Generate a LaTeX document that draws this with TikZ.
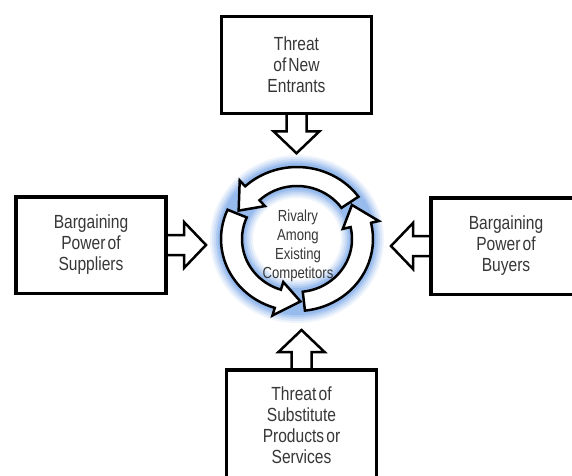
\documentclass[tikz,border=0pt]{standalone}
\usepackage{fontspec}
\setmainfont{Liberation Sans}[FakeStretch=0.82,WordSpace=0.5]
\definecolor{txtgray}{RGB}{55,55,55}
\definecolor{glowblue}{RGB}{95,150,230}
\tikzset{
  forcebox/.style={draw, line width=3.5pt, fill=white, minimum width=150pt,
    minimum height=96.5pt, align=center, text=txtgray,
    font=\fontsize{19}{21}\selectfont},
  hubtext/.style={align=center, text=txtgray, font=\fontsize{16}{19}\selectfont},
  ringline/.style={fill=white, draw=black, line width=2.5pt, line join=miter},
  pics/blockarrow/.style={code={
    \filldraw[fill=white, draw=black, line width=2.5pt, line join=miter]
      (0,10) -- (18,10) -- (18,23) -- (40,0) -- (18,-23) -- (18,-10) -- (0,-10);
  }}
}
% one arrow of the ring: tail angle, head base angle, tip angle
\newcommand{\ringarrow}[3]{%
  \filldraw[ringline] (#1:76 and 72)
    arc[start angle=#1, end angle=#2, x radius=76, y radius=72]
    -- (#2:84 and 80) -- (#3:65.5 and 62.5) -- (#2:47 and 45) -- (#2:55 and 53)
    arc[start angle=#2, end angle=#1, x radius=55, y radius=53] -- cycle;}

\begin{document}
\begin{tikzpicture}[x=1pt,y=1pt]
    \useasboundingbox (0,0) rectangle (572,475);
    \clip (0,0) rectangle (572,475);
    \fill[white] (0,0) rectangle (572,475);
    \coordinate (ringc) at (297,236);

    % glow and ring
    \begin{scope}[shift={(ringc)}]
    \foreach \w/\op in {43/0.10, 39/0.13, 35/0.17, 31/0.22, 27/0.28}
        \draw[glowblue, opacity=\op, line width=\w pt] (0,0) ellipse [x radius=65.5, y radius=62.5];
    \ringarrow{36}{133}{153}
    \ringarrow{156}{253}{273}
    \ringarrow{276}{373}{393}
    \end{scope}
    \node[hubtext] (hub) at (298,229) {Rivalry\\Among\\Existing\\Competitors};

    % block arrows towards the ring
    \coordinate (entrantsS) at (296.5,361.75);
    \coordinate (suppliersE) at (166,230);
    \coordinate (buyersW) at (431,229);
    \coordinate (substitutesN) at (301.5,105);
    \pic[rotate=-90] at (entrantsS) {blockarrow};
    \pic at (suppliersE) {blockarrow};
    \pic[rotate=180] at (buyersW) {blockarrow};
    \pic[rotate=90] at (substitutesN) {blockarrow};

    % the four forces
    \node[forcebox] (entrants) at (296.5,410) {Threat\\of New\\Entrants};
    \node[forcebox] (suppliers) at (91,230) {Bargaining\\Power of\\Suppliers};
    \node[forcebox] (buyers) at (506,229) {Bargaining\\Power of\\Buyers};
    \node[forcebox, minimum height=110pt] (substitutes) at (301.5,50) {Threat of\\Substitute\\Products or\\Services};
\end{tikzpicture}
\end{document}
